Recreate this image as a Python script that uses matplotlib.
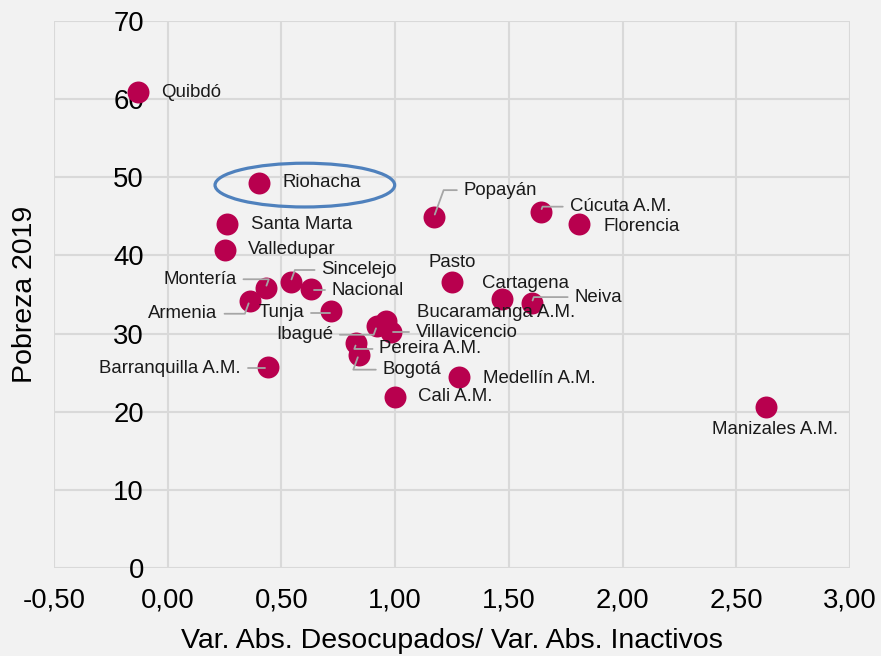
import matplotlib
matplotlib.use("Agg")
import matplotlib.pyplot as plt
from matplotlib.patches import Ellipse
from matplotlib.ticker import FuncFormatter

plt.rcParams['font.family'] = ['Liberation Sans', 'DejaVu Sans']

# data
ciudades = ['Quibdó', 'Riohacha', 'Santa Marta', 'Valledupar', 'Montería', 'Armenia',
            'Sincelejo', 'Nacional', 'Tunja', 'Ibagué', 'Bucaramanga A.M.', 'Villavicencio',
            'Pereira A.M.', 'Bogotá', 'Cali A.M.', 'Medellín A.M.', 'Pasto', 'Cartagena',
            'Neiva', 'Popayán', 'Cúcuta A.M.', 'Florencia', 'Barranquilla A.M.', 'Manizales A.M.']
ratio = [-0.13, 0.40, 0.26, 0.25, 0.43, 0.36,
         0.54, 0.63, 0.72, 0.92, 0.96, 0.98,
         0.83, 0.84, 1.00, 1.28, 1.25, 1.47,
         1.60, 1.17, 1.64, 1.81, 0.44, 2.63]
pobreza = [60.9, 49.3, 44.0, 40.7, 35.8, 34.2,
           36.6, 35.7, 32.9, 31.0, 31.6, 30.2,
           28.8, 27.3, 21.9, 24.4, 36.6, 34.4,
           33.9, 44.9, 45.6, 44.0, 25.7, 20.6]

# label offsets in pixels (dx, dy down), alignment, leader line
etiquetas = {
    'Quibdó': (23, 0, 'left', False),
    'Riohacha': (24, 0, 'left', False),
    'Santa Marta': (24, 0, 'left', False),
    'Valledupar': (23, 0, 'left', False),
    'Montería': (-29, -9, 'right', True),
    'Armenia': (-32, 13, 'right', True),
    'Sincelejo': (31, -12, 'left', True),
    'Nacional': (21, 1, 'left', True),
    'Tunja': (-27, 2, 'right', True),
    'Ibagué': (-44, 9, 'right', True),
    'Bucaramanga A.M.': (31, -9, 'left', False),
    'Villavicencio': (25, 0, 'left', True),
    'Pereira A.M.': (23, 6, 'left', True),
    'Bogotá': (24, 15, 'left', True),
    'Cali A.M.': (23, 0, 'left', False),
    'Medellín A.M.': (24, 1, 'left', False),
    'Pasto': (0, -19, 'center', False),
    'Cartagena': (-20, -16, 'left', False),
    'Neiva': (43, -6, 'left', True),
    'Popayán': (30, -27, 'left', True),
    'Cúcuta A.M.': (29, -5, 'left', True),
    'Florencia': (24, 2, 'left', False),
    'Barranquilla A.M.': (-27, 1, 'right', True),
    'Manizales A.M.': (9, 22, 'center', False),
}

fig = plt.figure(figsize=(8.81, 6.56), dpi=100, facecolor='#F2F2F2')
ax = fig.add_axes([54/881, 1 - 568/656, 796/881, 547/656])
ax.set_facecolor('#F2F2F2')

ax.scatter(ratio, pobreza, s=250, color='#B8004E', zorder=2, linewidths=0)

for nombre, x, y in zip(ciudades, ratio, pobreza):
    dx, dy, ha, leader = etiquetas[nombre]
    props = None
    if leader:
        rel = (1, 0.5) if ha == 'right' else (0, 0.5)
        props = dict(arrowstyle='-', color='#A6A6A6', lw=1.3, shrinkA=3, shrinkB=2,
                     relpos=rel, connectionstyle='angle,angleA=0,angleB=70,rad=0')
    ax.annotate(nombre, (x, y), xytext=(dx, -dy), textcoords='offset pixels',
                ha=ha, va='center', fontsize=13.4, color='#1A1A1A',
                arrowprops=props, zorder=3)

ax.add_patch(Ellipse((0.603, 49.0), 0.79, 5.6, fill=False, edgecolor='#4F81BD', lw=2.3, zorder=4))

ax.set_xlim(-0.5, 3.0)
ax.set_ylim(0, 70)
ax.set_xticks([-0.5, 0, 0.5, 1.0, 1.5, 2.0, 2.5, 3.0])
ax.set_yticks(range(0, 71, 10))
ax.xaxis.set_major_formatter(FuncFormatter(lambda v, p: f'{v:.2f}'.replace('.', ',')))
ax.grid(True, color='#D9D9D9', lw=1.5)
ax.set_axisbelow(True)
for s in ax.spines.values():
    s.set_visible(False)
ax.spines['left'].set_position(('data', 0))
ax.tick_params(length=0, labelsize=19.8, colors='black')
ax.tick_params(axis='y', pad=17)
ax.tick_params(axis='x', pad=14)

ax.set_xlabel('Var. Abs. Desocupados/ Var. Abs. Inactivos', fontsize=20.5)
ax.set_ylabel('Pobreza 2019', fontsize=20.5)
ax.xaxis.set_label_coords(0.5, -0.133)
ax.xaxis.label.set_va('center')
ax.yaxis.set_label_coords(-0.037, 0.5)
ax.yaxis.label.set_va('center')

fig.savefig('out.png', dpi=100, facecolor='#F2F2F2')
